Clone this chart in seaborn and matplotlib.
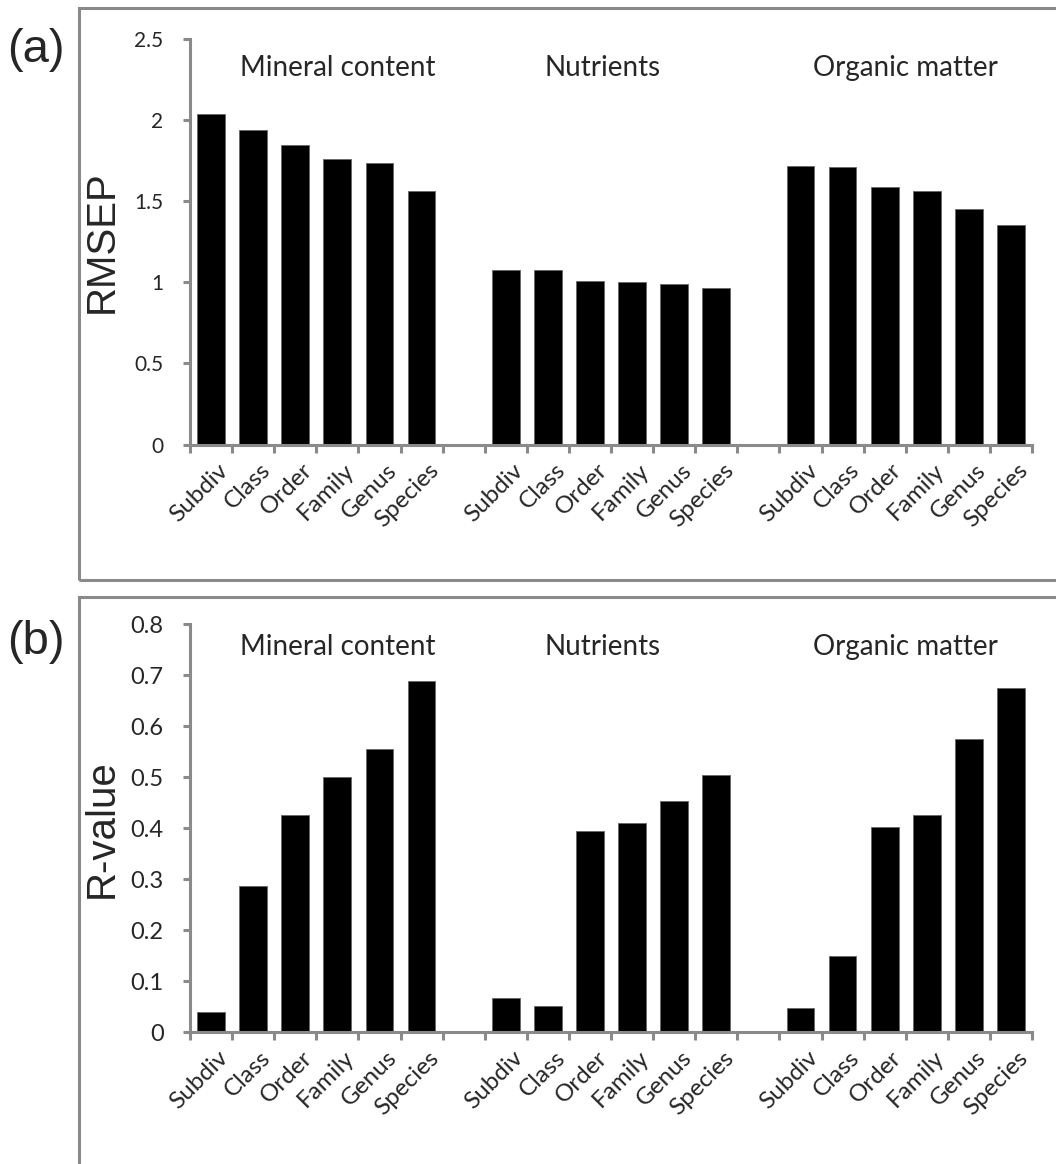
import numpy as np
import pandas as pd
import matplotlib.pyplot as plt
import seaborn as sns
from matplotlib.patches import Rectangle

# taxonomic levels and environmental variable groups
ranks = ["Subdiv", "Class", "Order", "Family", "Genus", "Species"]
groups = ["Mineral content", "Nutrients", "Organic matter"]

# (a) RMSEP per group
rmsep_mineral = [2.04, 1.94, 1.845, 1.76, 1.735, 1.565]
rmsep_nutrients = [1.075, 1.075, 1.01, 1.0, 0.99, 0.965]
rmsep_organic = [1.72, 1.71, 1.585, 1.565, 1.455, 1.355]

# (b) R-value per group
r_mineral = [0.040, 0.286, 0.427, 0.501, 0.556, 0.688]
r_nutrients = [0.068, 0.052, 0.395, 0.411, 0.454, 0.505]
r_organic = [0.048, 0.150, 0.403, 0.427, 0.575, 0.676]

rmsep_ticks = [0, 0.5, 1, 1.5, 2, 2.5]
rmsep_ticklabels = ["0", "0.5", "1", "1.5", "2", "2.5"]
r_ticks = [0, 0.1, 0.2, 0.3, 0.4, 0.5, 0.6, 0.7, 0.8]
r_ticklabels = ["0", "0.1", "0.2", "0.3", "0.4", "0.5", "0.6", "0.7", "0.8"]

GRAY = "#8a8a8a"
LABEL_FONT = ["Lato", "DejaVu Sans"]
ARIAL = ["Liberation Sans", "DejaVu Sans"]

sns.set_style("white")


def build_frame(series):
    # one row per bar, slot keys keep an empty slot between groups
    rows = []
    for g, vals in zip(groups, series):
        for r, v in zip(ranks, vals):
            rows.append({"slot": f"{g}|{r}", "value": v})
    return pd.DataFrame(rows)


order = []
xlabels = []
for i, g in enumerate(groups):
    order += [f"{g}|{r}" for r in ranks]
    xlabels += ranks
    if i < len(groups) - 1:
        order.append(f"gap{i}")
        xlabels.append("")


def draw_panel(ax, df, ymax, yticks, yticklabels, ytick_size,
               ylabel, title_y):
    sns.barplot(data=df, x="slot", y="value", order=order, color="black",
                width=0.66, edgecolor="#666666", linewidth=0.6,
                saturation=1, ax=ax)
    ax.set_xlim(-0.5, len(order) - 0.5)
    ax.set_ylim(0, ymax)
    # Excel-style: tick marks at category boundaries, labels near centres
    # (label anchor nudged right so the rotated text ends past the bar)
    ax.set_xticks(np.arange(len(order)) + 0.33)
    ax.set_xticklabels(xlabels, rotation=45, ha="right", va="center",
                       rotation_mode="anchor", fontsize=17.5,
                       family=LABEL_FONT)
    ax.set_xticks(np.arange(-0.5, len(order), 1), minor=True)
    ax.tick_params(axis="x", which="major", length=0, pad=16)
    ax.tick_params(axis="x", which="minor", length=6, width=2.2,
                   color=GRAY, direction="out", bottom=True)
    ax.set_yticks(yticks)
    ax.set_yticklabels(yticklabels, fontsize=ytick_size, family=LABEL_FONT)
    ax.tick_params(axis="y", length=5, width=2.2, color=GRAY,
                   direction="out", pad=14, left=True)
    for side in ["top", "right"]:
        ax.spines[side].set_visible(False)
    for side in ["left", "bottom"]:
        ax.spines[side].set_color(GRAY)
        ax.spines[side].set_linewidth(2.2)
    ax.set_xlabel("")
    ax.set_ylabel(ylabel, fontsize=29, family=ARIAL)
    ax.yaxis.set_label_coords(-0.082, 0.5)
    title_x = [3.0, 9.3, 16.5]
    for g, tx in zip(groups, title_x):
        ax.text(tx, title_y, g, ha="center", va="center", fontsize=20,
                family=LABEL_FONT)


fig = plt.figure(figsize=(10.56, 11.64), dpi=100)
W, H = 1056.0, 1164.0

# outer frames around each panel
fig.add_artist(Rectangle((79 / W, 1 - 580 / H), 1.0, (580 - 8) / H,
                         transform=fig.transFigure, fill=False,
                         edgecolor=GRAY, linewidth=2.2))
fig.add_artist(Rectangle((79 / W, -0.05), 1.0, 0.05 + (1164 - 597) / H,
                         transform=fig.transFigure, fill=False,
                         edgecolor=GRAY, linewidth=2.2))

ax1 = fig.add_axes([190 / W, 1 - 444.6 / H, 842 / W, (444.6 - 39) / H])
ax2 = fig.add_axes([190 / W, 1 - 1032.3 / H, 842 / W, (1032.3 - 624.3) / H])

draw_panel(ax1,
           build_frame([rmsep_mineral, rmsep_nutrients, rmsep_organic]),
           2.5, rmsep_ticks, rmsep_ticklabels, 15, "RMSEP", 2.32)
draw_panel(ax2, build_frame([r_mineral, r_nutrients, r_organic]),
           0.8, r_ticks, r_ticklabels, 17, "R-value", 0.756)

fig.text(36 / W, 1 - 50 / H, "(a)", ha="center", va="center",
         fontsize=34, family=ARIAL)
fig.text(36 / W, 1 - 642 / H, "(b)", ha="center", va="center",
         fontsize=34, family=ARIAL)

fig.savefig("out.png", dpi=100)
